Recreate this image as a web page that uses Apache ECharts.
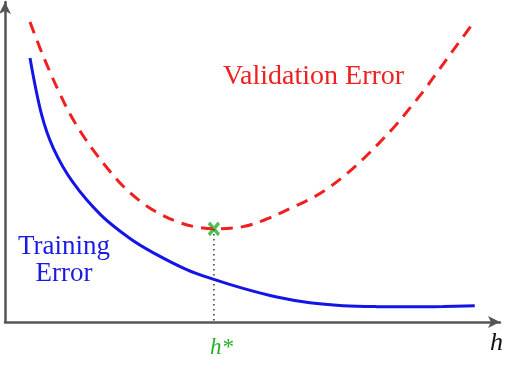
<!DOCTYPE html>
<html>
<head>
<meta charset="utf-8">
<script src="https://cdn.jsdelivr.net/npm/echarts@6/dist/echarts.min.js"></script>
<style>html,body{margin:0;padding:0;background:#fff}#c{width:506px;height:370px}</style>
</head>
<body>
<div id="c"></div>
<script>
// Model complexity h (0..100 scale) and error values (0..100 scale)
const trainH = [5.05, 7.41, 9.80, 13.74, 19.39, 25.25, 29.90, 36.7, 42.2, 48.1, 54.9, 61.6, 68.3, 75.1, 81.8, 88.5, 94.9];
const trainErr = [82.5, 64.7, 54.2, 43.6, 33.4, 26.1, 21.7, 16.4, 13.3, 10.5, 7.8, 6.0, 5.1, 4.8, 4.75, 4.85, 5.1];
const valH = [5.05, 7.07, 9.09, 11.11, 13.13, 15.56, 17.98, 20.81, 23.84, 27.27, 30.91, 34.95, 38.59, 42.22, 48.08, 52.93, 58.18, 61.62, 65.05, 68.48, 72.12, 75.56, 79.0, 81.82, 84.85, 87.47, 90.3, 92.53, 94.14];
const valErr = [93.75, 85.6, 78.1, 71.25, 65.0, 58.75, 53.4, 47.8, 42.5, 37.8, 34.1, 31.25, 29.7, 29.1, 29.8, 32.2, 35.9, 38.4, 41.6, 45.6, 50.6, 55.9, 61.6, 66.9, 72.8, 78.4, 84.4, 89.1, 92.5];
const optimumH = 42.2;
const optimumErr = 29.1;
const labels = {train: 'Training\nError', val: 'Validation Error', opt: 'h*', axis: 'h'};

const pairs = (xs, ys) => xs.map((x, i) => [x, ys[i]]);

const chart = echarts.init(document.getElementById('c'), null, {renderer: 'canvas'});
const serif = '"Liberation Serif", "DejaVu Serif", serif';
chart.setOption({
  animation: false,
  grid: {left: 5, right: 6, top: 2, bottom: 48},
  xAxis: {
    type: 'value', min: 0, max: 100,
    axisLine: {lineStyle: {color: '#555', width: 2.5}, symbol: ['none', 'arrow'], symbolSize: [9, 12]},
    axisTick: {show: false}, axisLabel: {show: false}, splitLine: {show: false}
  },
  yAxis: {
    type: 'value', min: 0, max: 100,
    axisLine: {show: true, lineStyle: {color: '#555', width: 2.5}, symbol: ['none', 'arrow'], symbolSize: [9, 12]},
    axisTick: {show: false}, axisLabel: {show: false}, splitLine: {show: false}
  },
  series: [
    {
      type: 'line', data: pairs(trainH, trainErr), smooth: 0.35, showSymbol: false,
      lineStyle: {color: '#1414e6', width: 3}
    },
    {
      type: 'line', data: pairs(valH, valErr), smooth: 0.35, showSymbol: false,
      lineStyle: {color: '#f02020', width: 3, type: [12, 8]}
    },
    {
      type: 'line', data: [[optimumH, optimumErr], [optimumH, 0]], showSymbol: false,
      lineStyle: {color: '#333', width: 1.5, type: [1.5, 3.5]}
    },
    {
      type: 'scatter', data: [[optimumH, optimumErr]],
      symbol: 'path://M0,0L10,12M10,0L0,12', symbolSize: [10, 12],
      itemStyle: {color: 'none', borderColor: '#26b026', borderWidth: 3.5}
    }
  ],
  graphic: [
    {type: 'text', left: 223, top: 63, style: {text: labels.val, fill: '#f02020', font: '28px ' + serif}},
    {type: 'text', x: 64, y: 233, style: {text: labels.train, fill: '#1a1ae6', font: '27px ' + serif, align: 'center', lineHeight: 27}},
    {type: 'text', left: 210, top: 336, style: {text: labels.opt, fill: '#26b026', font: 'italic 23px ' + serif}},
    {type: 'text', left: 490, top: 330, style: {text: labels.axis, fill: '#111', font: 'italic 26px ' + serif}}
  ]
});
</script>
</body>
</html>
